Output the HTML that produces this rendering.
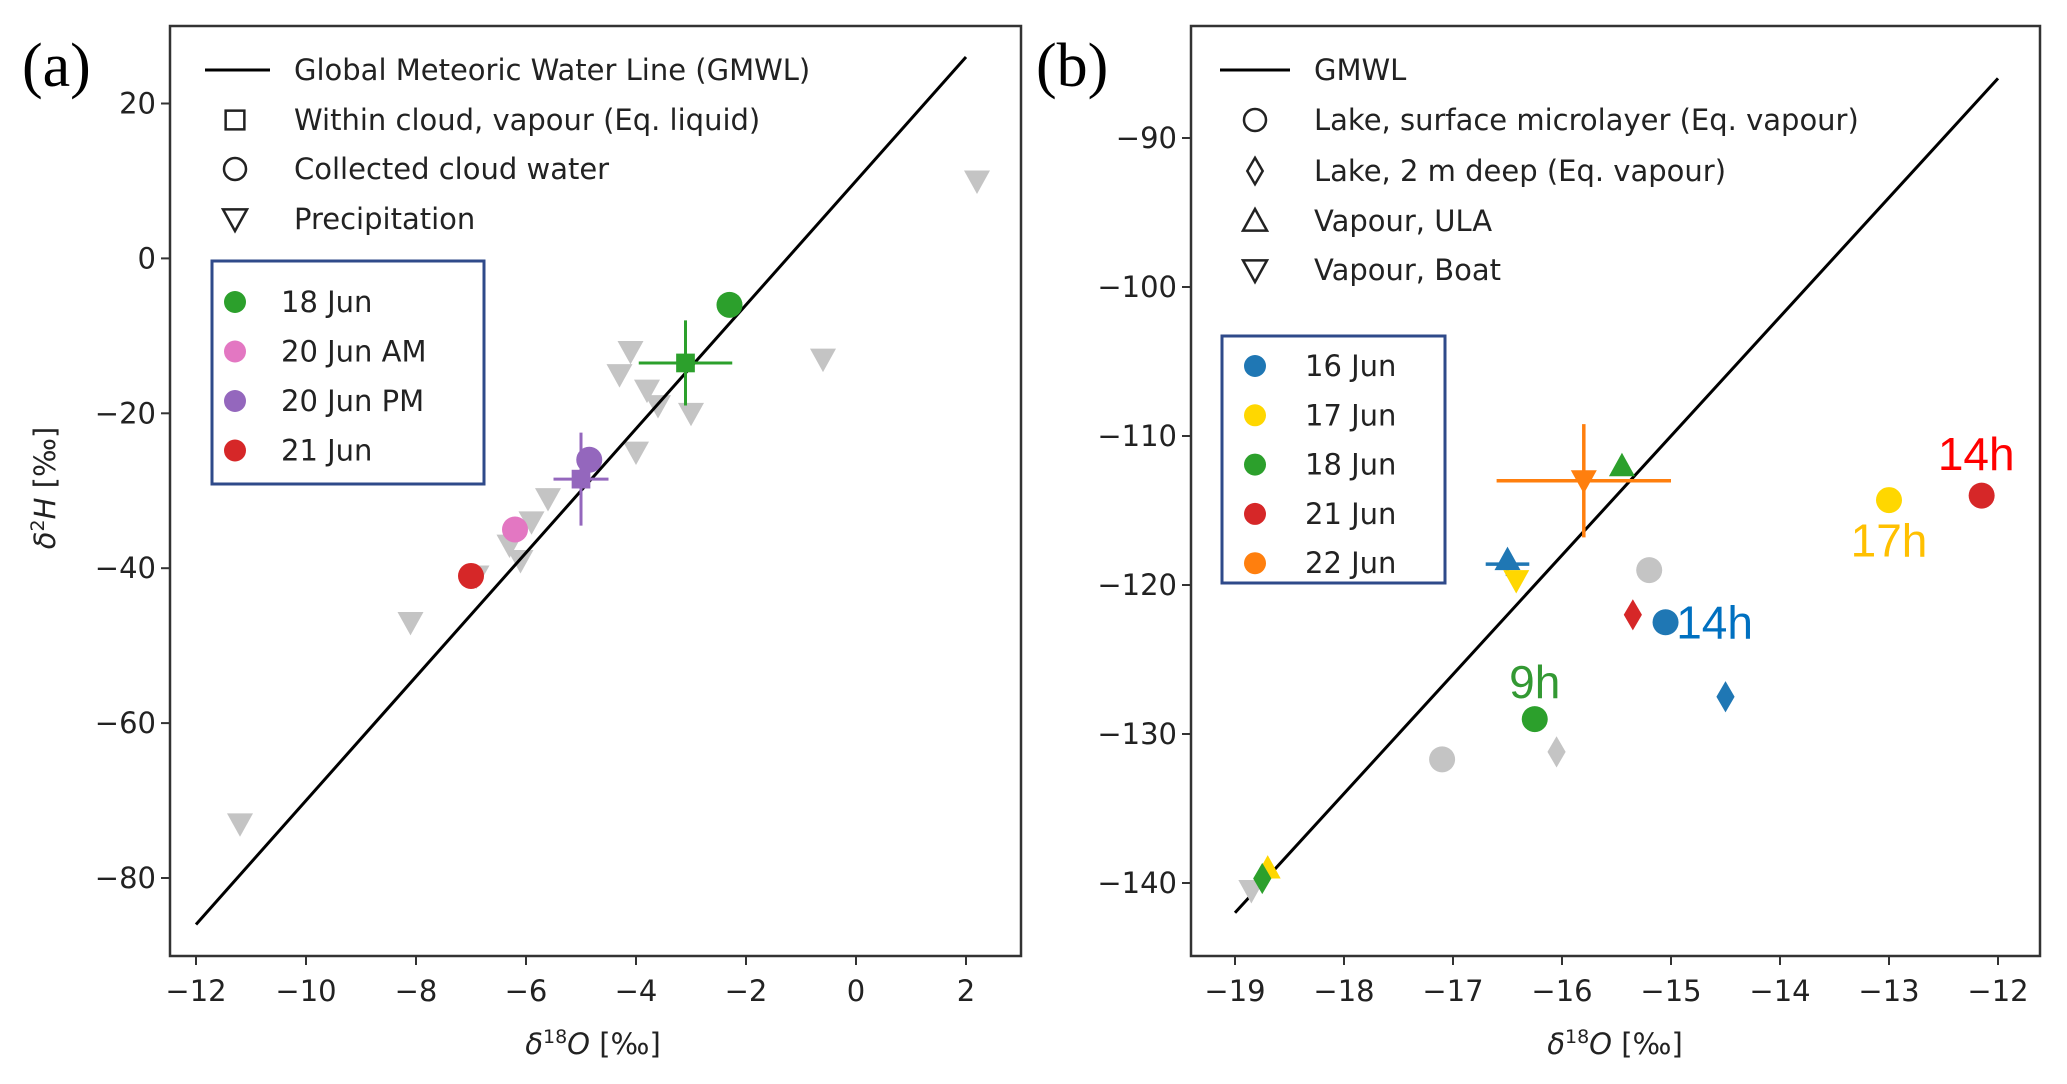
<!DOCTYPE html>
<html><head><meta charset="utf-8">
<style>
html,body{margin:0;padding:0;background:#fff;}
svg{display:block;font-family:"DejaVu Sans","Liberation Sans",sans-serif;}
</style></head>
<body>
<svg id="fig" width="2067" height="1084" viewBox="0 0 2067 1084" xmlns="http://www.w3.org/2000/svg"></svg>
<script>
// ---------- Panel (a) data ----------
const aPrecipX = [2.2,-0.6,-4.1,-4.3,-3.8,-3.6,-3.0,-4.0,-5.6,-5.9,-6.3,-6.1,-6.9,-8.1,-11.2];
const aPrecipY = [10,-13,-12,-15,-17,-19,-20,-25,-31,-34,-37,-39,-41,-47,-73];
const aCircleX = [-2.3,-4.85,-6.2,-7.0];
const aCircleY = [-6,-26,-35,-41];
const aCircleC = ['#2ca02c','#9467bd','#e377c2','#d62728'];
const aSquareX = [-3.1,-5.0];
const aSquareY = [-13.5,-28.5];
const aSquareXerr = [0.85,0.5];
const aSquareYerr = [5.5,6.0];
const aSquareC = ['#2ca02c','#9467bd'];
const aXTicks = [-12,-10,-8,-6,-4,-2,0,2];
const aYTicks = [20,0,-20,-40,-60,-80];
const aLegendDates = ['18 Jun','20 Jun  AM','20 Jun  PM','21 Jun'];
const aLegendColors = ['#2ca02c','#e377c2','#9467bd','#d62728'];

// ---------- Panel (b) data ----------
const bPoints = [ // [type, x, y, color]
 ['circle',-15.2,-119,'#c4c4c4'],['circle',-17.1,-131.7,'#c4c4c4'],
 ['diamond',-16.05,-131.2,'#c4c4c4'],['tri-down',-18.85,-140.5,'#c4c4c4'],
 ['circle',-15.05,-122.5,'#1f77b4'],['diamond',-14.5,-127.5,'#1f77b4'],['tri-up',-16.5,-118.3,'#1f77b4'],
 ['circle',-13.0,-114.3,'#ffd700'],['tri-down',-16.42,-119.7,'#ffd700'],['tri-up',-18.7,-139.0,'#ffd700'],
 ['circle',-16.25,-129.0,'#2ca02c'],['tri-up',-15.45,-112.0,'#2ca02c'],['diamond',-18.75,-139.7,'#2ca02c'],
 ['circle',-12.15,-114.0,'#d62728'],['diamond',-15.35,-122.0,'#d62728'],
 ['tri-down',-15.8,-113.0,'#ff7f0e']
];
const bErrX = [-15.8,-16.5];
const bErrY = [-113.0,-118.6];
const bErrXerr = [0.8,0.2];
const bErrYerr = [3.8,0.8];
const bErrC = ['#ff7f0e','#1f77b4'];
const bAnnotText = ['14h','17h','14h','9h'];
const bAnnotX = [-12.2,-13.0,-14.6,-16.25];
const bAnnotY = [-111.2,-117.0,-122.5,-126.5];
const bAnnotC = ['#ff0000','#ffc000','#0070c0','#339933'];
const bXTicks = [-19,-18,-17,-16,-15,-14,-13,-12];
const bYTicks = [-90,-100,-110,-120,-130,-140];
const bLegendDates = ['16 Jun','17 Jun','18 Jun','21 Jun','22 Jun'];
const bLegendColors = ['#1f77b4','#ffd700','#2ca02c','#d62728','#ff7f0e'];

const NS='http://www.w3.org/2000/svg';
const svg=document.getElementById('fig');
function mk(tag,attrs,parent,text){const e=document.createElementNS(NS,tag);for(const k in attrs)e.setAttribute(k,attrs[k]);if(text!==undefined)e.textContent=text;(parent||svg).appendChild(e);return e;}
function marker(g,type,cx,cy,fill,stroke,r){
  r=r||13;let e;
  if(type==='circle') e=mk('circle',{cx:cx,cy:cy,r:r,fill:fill,stroke:stroke||'none','stroke-width':2.5},g);
  else if(type==='square') e=mk('rect',{x:cx-r*0.85,y:cy-r*0.85,width:r*1.7,height:r*1.7,fill:fill,stroke:stroke||'none','stroke-width':2.5},g);
  else if(type==='diamond') e=mk('polygon',{points:`${cx},${cy-r*1.2} ${cx+r*0.7},${cy} ${cx},${cy+r*1.2} ${cx-r*0.7},${cy}`,fill:fill,stroke:stroke||'none','stroke-width':2.5},g);
  else if(type==='tri-down') e=mk('polygon',{points:`${cx-r},${cy-r*0.8} ${cx+r},${cy-r*0.8} ${cx},${cy+r}`,fill:fill,stroke:stroke||'none','stroke-width':2.5},g);
  else e=mk('polygon',{points:`${cx-r},${cy+r*0.8} ${cx+r},${cy+r*0.8} ${cx},${cy-r}`,fill:fill,stroke:stroke||'none','stroke-width':2.5},g);
  return e;
}
function axes(id,L,R,T,B,xfn,yfn,xt,yt){
  const g=mk('g',{});
  
  
  mk('rect',{x:L,y:T,width:R-L,height:B-T,fill:'none',stroke:'#333',"stroke-width":2.5},g);
  xt.forEach(v=>{const x=xfn(v);mk('line',{x1:x,y1:B,x2:x,y2:B+9,stroke:'#333','stroke-width':2},g);
    const t=mk('text',{x:x,y:B+45,'font-size':29,'text-anchor':'middle',fill:'#222'},g,String(v).replace('-','\u2212'));
    });
  yt.forEach(v=>{const y=yfn(v);mk('line',{x1:L-9,y1:y,x2:L,y2:y,stroke:'#333','stroke-width':2},g);
    const t=mk('text',{x:L-14,y:y+10,'font-size':29,'text-anchor':'end',fill:'#222'},g,String(v).replace('-','\u2212'));
    });
  return g;
}

// ===== Panel a =====
const aL=170,aR=1021,aT=26,aB=956;
const ax=v=>196+(v+12)*55, ay=v=>103.5-(v-20)*7.745;
axes('panel-a',aL,aR,aT,aB,ax,ay,aXTicks,aYTicks);
const ga=mk('g',{});


aPrecipX.forEach((x,i)=>{const m=marker(ga,'tri-down',ax(x),ay(aPrecipY[i]),'#c4c4c4');
  });
const gm=mk('line',{x1:ax(-12),y1:ay(-86),x2:ax(2),y2:ay(26),stroke:'#000','stroke-width':3},ga);

aSquareX.forEach((x,i)=>{const c=aSquareC[i],cx=ax(x),cy=ay(aSquareY[i]);
  mk('line',{x1:ax(x-aSquareXerr[i]),y1:cy,x2:ax(x+aSquareXerr[i]),y2:cy,stroke:c,'stroke-width':3},ga);
  mk('line',{x1:cx,y1:ay(aSquareY[i]+aSquareYerr[i]),x2:cx,y2:ay(aSquareY[i]-aSquareYerr[i]),stroke:c,'stroke-width':3},ga);
  const m=marker(ga,'square',cx,cy,c,null,11);
  });
aCircleX.forEach((x,i)=>{const m=marker(ga,'circle',ax(x),ay(aCircleY[i]),aCircleC[i]);
  });

// legend a
const la=mk('g',{});


mk('line',{x1:205,y1:70,x2:270,y2:70,stroke:'#000','stroke-width':3},la);
marker(la,'square',235,120,'none','#222',11);
marker(la,'circle',235,169,'none','#222',11);
marker(la,'tri-down',235,219,'none','#222',12);
['Global Meteoric Water Line (GMWL)','Within cloud, vapour (Eq. liquid)','Collected cloud water','Precipitation'].forEach((s,i)=>{
  const t=mk('text',{x:294,y:[70,120,169,219][i]+10,'font-size':29,fill:'#222'},la,s);
  });
mk('rect',{x:212,y:261,width:272,height:223,fill:'#fff',stroke:'#2f4a8a','stroke-width':3},la);
aLegendDates.forEach((s,i)=>{const y=302+i*49.5;marker(la,'circle',235,y,aLegendColors[i],null,11);
  const t=mk('text',{x:281,y:y+10,'font-size':29,fill:'#222','xml:space':'preserve'},la,s);
  });
let t=mk('text',{x:22,y:86,'font-size':62,'font-family':'Liberation Serif,serif',fill:'#000'},svg,'(a)');

t=mk('text',{x:593,y:1054,'font-size':29,'text-anchor':'middle',fill:'#222'},svg);
t.innerHTML='<tspan font-style="italic">δ</tspan><tspan font-size="19" dy="-11">18</tspan><tspan font-style="italic" dy="11">O</tspan> [‰]';

t=mk('text',{x:0,y:0,'font-size':29,'text-anchor':'middle',fill:'#222',transform:'translate(55,488) rotate(-90)'},svg);
t.innerHTML='<tspan font-style="italic">δ</tspan><tspan font-size="19" dy="-11">2</tspan><tspan font-style="italic" dy="11">H</tspan> [‰]';


// ===== Panel b =====
const bL=1191,bR=2040,bT=26,bB=956;
const bx=v=>1235+(v+19)*109, by=v=>138-(v+90)*14.9;
axes('panel-b',bL,bR,bT,bB,bx,by,bXTicks,bYTicks);
const gb=mk('g',{});


const gm2=mk('line',{x1:bx(-19),y1:by(-142),x2:bx(-12),y2:by(-86),stroke:'#000','stroke-width':3},gb);

bErrX.forEach((x,i)=>{const c=bErrC[i],cx=bx(x),cy=by(bErrY[i]);
  mk('line',{x1:bx(x-bErrXerr[i]),y1:cy,x2:bx(x+bErrXerr[i]),y2:cy,stroke:c,'stroke-width':3.5},gb);
  mk('line',{x1:cx,y1:by(bErrY[i]+bErrYerr[i]),x2:cx,y2:by(bErrY[i]-bErrYerr[i]),stroke:c,'stroke-width':3.5},gb);});
bPoints.forEach(p=>{const m=marker(gb,p[0],bx(p[1]),by(p[2]),p[3]);
  });
bAnnotText.forEach((s,i)=>{const a=mk('text',{x:bx(bAnnotX[i]),y:by(bAnnotY[i])+16,'font-size':46,'text-anchor':'middle',fill:bAnnotC[i],'font-family':'Liberation Sans,sans-serif'},gb,s);
  });
const lb=mk('g',{});


mk('line',{x1:1220,y1:70,x2:1290,y2:70,stroke:'#000','stroke-width':3},lb);
marker(lb,'circle',1255,120,'none','#222',11);
marker(lb,'diamond',1255,171,'none','#222',11);
marker(lb,'tri-up',1255,221,'none','#222',12);
marker(lb,'tri-down',1255,270,'none','#222',12);
['GMWL','Lake, surface microlayer (Eq. vapour)','Lake, 2 m deep (Eq. vapour)','Vapour, ULA','Vapour, Boat'].forEach((s,i)=>{
  const e=mk('text',{x:1314,y:[70,120,171,221,270][i]+10,'font-size':29,fill:'#222'},lb,s);
  });
mk('rect',{x:1222,y:336,width:223,height:247,fill:'#fff',stroke:'#2f4a8a','stroke-width':3},lb);
bLegendDates.forEach((s,i)=>{const y=366+i*49.3;marker(lb,'circle',1255,y,bLegendColors[i],null,11);
  const e=mk('text',{x:1305,y:y+10,'font-size':29,fill:'#222'},lb,s);
  });
t=mk('text',{x:1036,y:86,'font-size':62,'font-family':'Liberation Serif,serif',fill:'#000'},svg,'(b)');

t=mk('text',{x:1615,y:1054,'font-size':29,'text-anchor':'middle',fill:'#222'},svg);
t.innerHTML='<tspan font-style="italic">δ</tspan><tspan font-size="19" dy="-11">18</tspan><tspan font-style="italic" dy="11">O</tspan> [‰]';

</script>
</body></html>
